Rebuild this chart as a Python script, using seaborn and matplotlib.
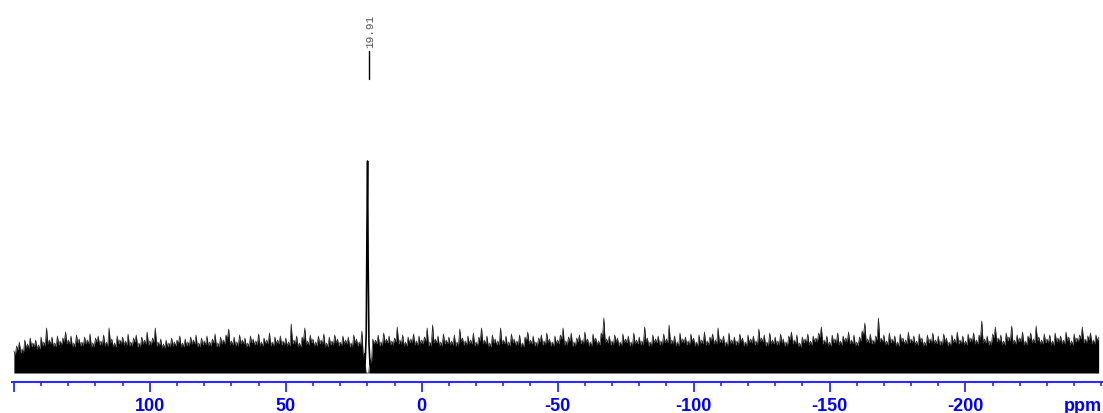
import numpy as np
import pandas as pd
import matplotlib
matplotlib.use("Agg")
import matplotlib.pyplot as plt
import seaborn as sns
from matplotlib.ticker import MultipleLocator, FixedLocator, FixedFormatter

# noise level, one value per ppm from 150 down to -249
noise_top = [
    22, 27, 31, 24, 33, 29, 35, 30, 33, 28, 36, 31, 45, 33, 36, 30, 37, 32, 35, 41,
    33, 37, 30, 38, 34, 31, 36, 33, 39, 30, 35, 37, 32, 38, 31, 45, 34, 30, 37, 33,
    36, 32, 39, 31, 35, 38, 30, 36, 33, 41, 32, 35, 45, 31, 34, 29, 33, 30, 35, 31,
    33, 37, 30, 34, 31, 36, 33, 38, 30, 35, 32, 37, 31, 34, 39, 30, 36, 33, 38, 44,
    32, 36, 31, 38, 33, 35, 30, 37, 34, 32, 39, 31, 35, 33, 40, 31, 36, 33, 37, 32,
    35, 31, 49, 33, 37, 30, 36, 45, 32, 38, 34, 31, 37, 33, 39, 30, 36, 32, 38, 34,
    31, 37, 33, 36, 30, 38, 34, 31, 42, 20, 0, 14, 34, 33, 38, 31, 40, 34, 37, 32,
    35, 46, 33, 38, 31, 36, 34, 39, 32, 37, 33, 36, 45, 31, 48, 34, 37, 31, 39, 33,
    36, 32, 38, 31, 44, 35, 32, 37, 33, 40, 31, 36, 45, 33, 37, 30, 38, 34, 32, 45,
    33, 37, 31, 39, 34, 32, 38, 30, 36, 41, 33, 37, 31, 35, 38, 32, 40, 34, 31, 37,
    33, 38, 45, 32, 36, 40, 31, 35, 38, 33, 41, 34, 31, 39, 35, 32, 40, 55, 34, 37,
    32, 38, 35, 31, 39, 34, 37, 31, 40, 33, 36, 32, 46, 35, 31, 38, 34, 37, 32, 39,
    34, 48, 33, 37, 31, 40, 34, 36, 32, 39, 35, 31, 38, 33, 41, 32, 36, 39, 33, 45,
    34, 37, 31, 40, 33, 36, 32, 39, 35, 31, 38, 34, 37, 32, 44, 35, 38, 31, 40, 33,
    36, 32, 39, 34, 31, 37, 41, 33, 38, 30, 36, 34, 39, 32, 37, 35, 40, 46, 33, 37,
    31, 38, 34, 40, 32, 37, 35, 41, 33, 38, 31, 36, 42, 50, 34, 39, 33, 37, 55, 35,
    38, 32, 40, 34, 37, 31, 39, 35, 33, 41, 34, 37, 32, 39, 35, 31, 38, 34, 40, 33,
    37, 32, 39, 35, 31, 38, 34, 41, 33, 37, 32, 39, 35, 40, 33, 38, 52, 34, 37, 32,
    39, 46, 35, 38, 32, 40, 36, 47, 33, 38, 35, 41, 32, 37, 40, 34, 47, 36, 33, 39,
    34, 38, 32, 40, 35, 37, 33, 41, 36, 32, 39, 35, 38, 46, 34, 37, 40, 33, 38, 36,
]
noise_ppm = np.arange(150, 150 - len(noise_top), -1)

# the single resonance
peak_ppm = [20.8, 20.4, 20.15, 19.91, 19.7, 19.4, 19.0]
peak_int = [10, 40, 140, 212, 110, 30, 8]
peak_label = "19.91"

major_ticks = [150, 100, 50, 0, -50, -100, -150, -200]
major_labels = ["", "100", "50", "0", "-50", "-100", "-150", "-200"]

sns.set_style("white")

fig = plt.figure(figsize=(11.03, 4.14), dpi=100)
ax = fig.add_axes([12 / 1103, 31.5 / 414, 1091 / 1103, 382.5 / 414])

# spikes at each read value, valleys half a ppm further on, just under the
# lower of the two neighbours -> thin spikes above a solid noise body
tops = pd.DataFrame({"ppm": noise_ppm, "intensity": noise_top})
valleys = pd.DataFrame({
    "ppm": noise_ppm[:-1] - 0.5,
    "intensity": np.clip(np.minimum(noise_top[:-1], noise_top[1:]) - 4, 0, None),
})
noise = pd.concat([tops, valleys]).sort_values("ppm", ascending=False)

ax.fill_between(noise["ppm"], 0, noise["intensity"], color="black", lw=0)
sns.lineplot(data=noise, x="ppm", y="intensity", color="#222222", lw=0.5,
             sort=False, ax=ax)
sns.lineplot(x=peak_ppm, y=peak_int, color="black", lw=1.2, sort=False, ax=ax)

# peak pick marker and label
ax.plot([19.5, 19.5], [294, 322], color="black", lw=1)
ax.text(19.1, 359, peak_label, rotation=90, ha="center", va="top",
        fontsize=8, color="#555555", family="Liberation Mono")

ax.set_xlim(150.7, -250.6)
ax.set_ylim(-8.5, 374)
ax.set_xlabel("")
ax.set_ylabel("")
ax.set_yticks([])

for s in ["top", "left", "right"]:
    ax.spines[s].set_visible(False)
ax.spines["bottom"].set_color("#2b2bff")
ax.spines["bottom"].set_linewidth(1.5)

ax.xaxis.set_major_locator(FixedLocator(major_ticks))
ax.xaxis.set_major_formatter(FixedFormatter(major_labels))
ax.xaxis.set_minor_locator(MultipleLocator(10))
ax.tick_params(axis="x", which="major", direction="out", length=7.5, width=1.3,
               color="#2b2bff", pad=4, labelsize=13, labelcolor="blue", bottom=True)
ax.tick_params(axis="x", which="minor", direction="out", length=3, width=1.2,
               color="#2b2bff", bottom=True)
for lab in ax.get_xticklabels():
    lab.set_fontweight("bold")
    lab.set_family("Liberation Sans")

fig.text(0.999, 3 / 414, "ppm", ha="right", va="baseline", fontsize=13,
         fontweight="bold", color="blue", family="Liberation Sans")

fig.savefig("out.png", dpi=100)
